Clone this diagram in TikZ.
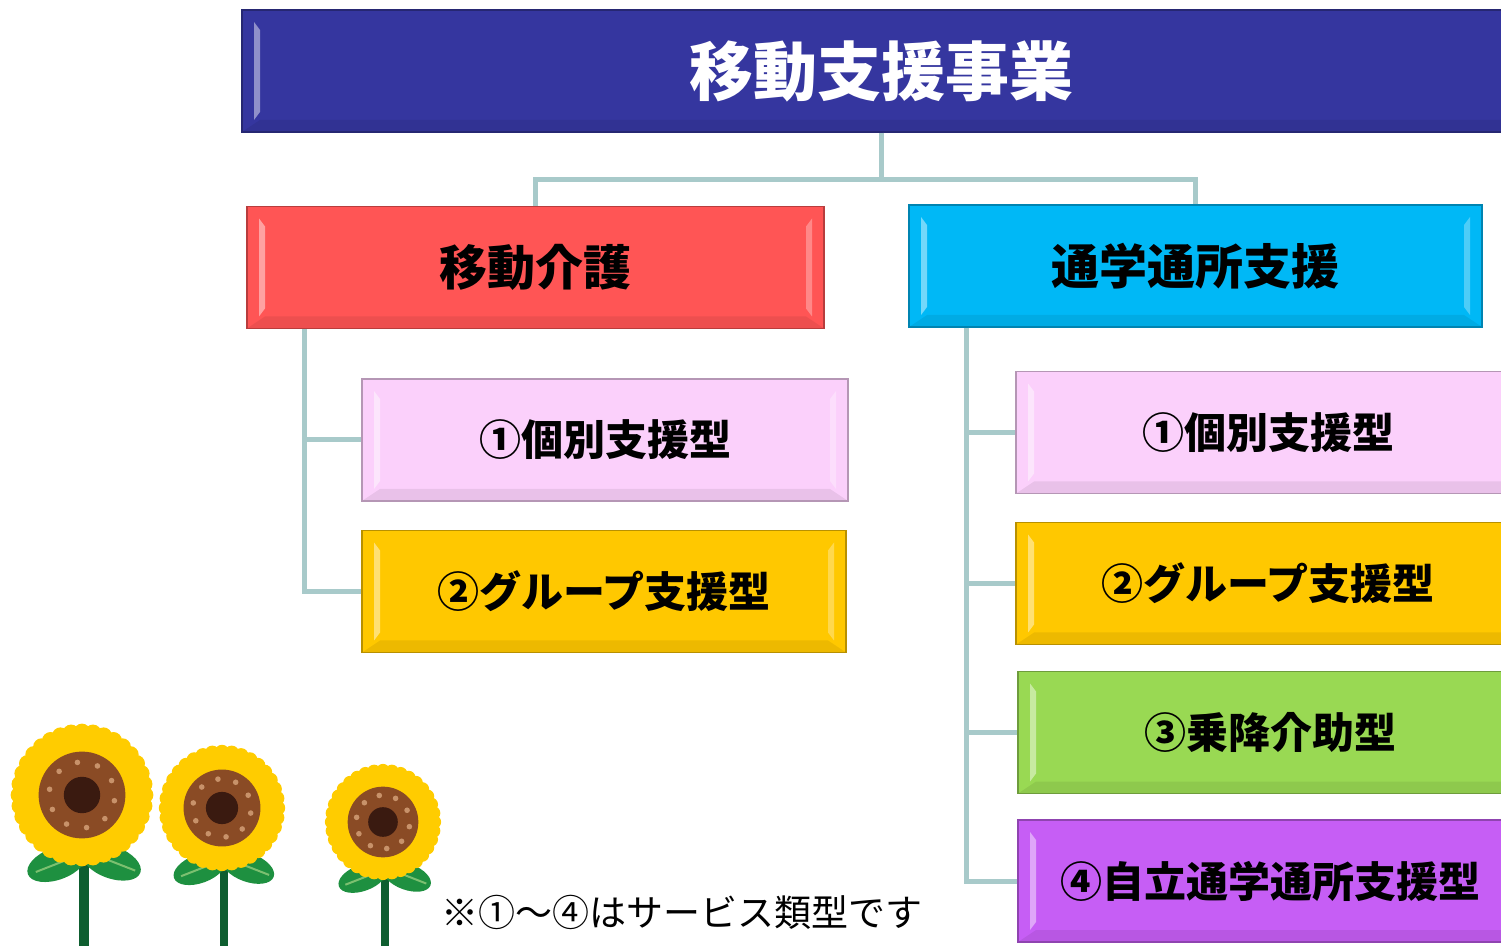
\documentclass[tikz,border=0pt]{standalone}
\usepackage{fontspec}
\newfontfamily\jp{Noto Sans CJK JP}

\definecolor{navy}{HTML}{35369F}
\definecolor{cred}{HTML}{FF5555}
\definecolor{ccyan}{HTML}{00B8F6}
\definecolor{cpink}{HTML}{FBD0FB}
\definecolor{cgold}{HTML}{FFC800}
\definecolor{cgreen}{HTML}{99D953}
\definecolor{cviolet}{HTML}{C65EF5}
\definecolor{linkc}{HTML}{A8CACA}
\definecolor{petal}{HTML}{FFCC00}
\definecolor{disk}{HTML}{8A4B25}
\definecolor{seed}{HTML}{3A1A10}
\definecolor{dot}{HTML}{C8926A}
\definecolor{leaf}{HTML}{1E9040}
\definecolor{vein}{HTML}{7CC070}
\definecolor{stem}{HTML}{0E5E30}

\tikzset{
	box/.style={fill=#1, draw=#1!72!black, line width=0.6pt, inner sep=0pt,
		minimum height=61pt, font=\jp\bfseries\fontsize{21pt}{25pt}\selectfont,
		path picture={
			\fill[white,opacity=.45] ([shift={(6pt,-6pt)}]path picture bounding box.north west)
				-- ([shift={(9pt,-10pt)}]path picture bounding box.north west)
				-- ([shift={(9pt,10pt)}]path picture bounding box.south west)
				-- ([shift={(6pt,6pt)}]path picture bounding box.south west) -- cycle;
			\fill[white,opacity=.3] ([shift={(-6pt,-6pt)}]path picture bounding box.north east)
				-- ([shift={(-9pt,-10pt)}]path picture bounding box.north east)
				-- ([shift={(-9pt,10pt)}]path picture bounding box.south east)
				-- ([shift={(-6pt,6pt)}]path picture bounding box.south east) -- cycle;
			\fill[black,opacity=.07] (path picture bounding box.south west)
				-- (path picture bounding box.south east)
				-- ([shift={(-9pt,6pt)}]path picture bounding box.south east)
				-- ([shift={(9pt,6pt)}]path picture bounding box.south west) -- cycle;
		}},
	big/.style={font=\jp\bfseries\fontsize{24pt}{28pt}\selectfont},
	link/.style={draw=linkc, line width=2.5pt},
}

\begin{document}
\begin{tikzpicture}[x=0.5pt,y=-0.5pt]
	\clip (0,0) rectangle (1501,946);

	% boxes
	\node[box=navy, minimum width=639pt, text=white, font=\jp\bfseries\fontsize{32pt}{36pt}\selectfont] (top) at (881,71) {移動支援事業};
	\node[box=cred, big, minimum width=288.5pt] (move) at (535.5,267.5) {移動介護};
	\node[box=ccyan, big, minimum width=286.5pt] (commute) at (1195.5,266) {通学通所支援};

	\node[box=cpink, minimum width=243pt] (l1) at (605,440) {①個別支援型};
	\node[box=cgold, minimum width=242pt] (l2) at (604,591.5) {②グループ支援型};

	\node[box=cpink, minimum width=252pt] (r1) at (1268,432.5) {①個別支援型};
	\node[box=cgold, minimum width=252pt] (r2) at (1268,583.5) {②グループ支援型};
	\node[box=cgreen, minimum width=252pt] (r3) at (1270,732.5) {③乗降介助型};
	\node[box=cviolet, minimum width=252pt] (r4) at (1270,881) {④自立通学通所支援型};

	% connectors
	\coordinate (bus) at (881,180);
	\coordinate (lbus) at (304,0);
	\coordinate (rbus) at (966,0);
	\draw[link] (top.south) -- (bus);
	\draw[link] (move.north) |- (bus) -| (commute.north);

	\draw[link] (lbus |- move.south) |- (l2.west);
	\draw[link] (lbus |- l1.west) -- (l1.west);

	\draw[link] (rbus |- commute.south) |- (r4.west);
	\draw[link] (rbus |- r1.west) -- (r1.west);
	\draw[link] (rbus |- r2.west) -- (r2.west);
	\draw[link] (rbus |- r3.west) -- (r3.west);

	% sunflowers
	\foreach \x/\y/\r in {82/795/70, 222/808/62, 383/822/57} {
		\draw[stem, line width={\r*0.065pt}] (\x+2,\y) -- (\x+2,946);
		\fill[leaf, rotate around={20:(\x-0.36*\r,\y+0.98*\r)}] (\x-0.36*\r,\y+0.98*\r) ellipse ({\r*0.22pt} and {\r*0.115pt});
		\fill[leaf, rotate around={-20:(\x+0.42*\r,\y+0.96*\r)}] (\x+0.42*\r,\y+0.96*\r) ellipse ({\r*0.22pt} and {\r*0.115pt});
		\draw[vein, line width=1pt] (\x-0.66*\r,\y+1.1*\r) -- (\x-0.2*\r,\y+0.92*\r);
		\draw[vein, line width=1pt] (\x+0.76*\r,\y+1.08*\r) -- (\x+0.3*\r,\y+0.9*\r);
		\fill[petal] (\x,\y) circle ({\r*0.44pt});
		\foreach \a in {0,10,...,350}
			\fill[petal] (\x,\y) ++(\a:{0.9*\r}) circle ({\r*0.06pt});
		\fill[disk] (\x,\y) circle ({\r*0.31pt});
		\foreach \a in {10,46,...,358}
			\fill[dot] (\x,\y) ++(\a:{0.47*\r}) circle (1.4pt);
		\fill[seed] (\x,\y) circle ({\r*0.13pt});
	}

	\node[font=\jp\fontsize{18.5pt}{22pt}\selectfont] (note) at (682,912) {※①～④はサービス類型です};
\end{tikzpicture}
\end{document}
